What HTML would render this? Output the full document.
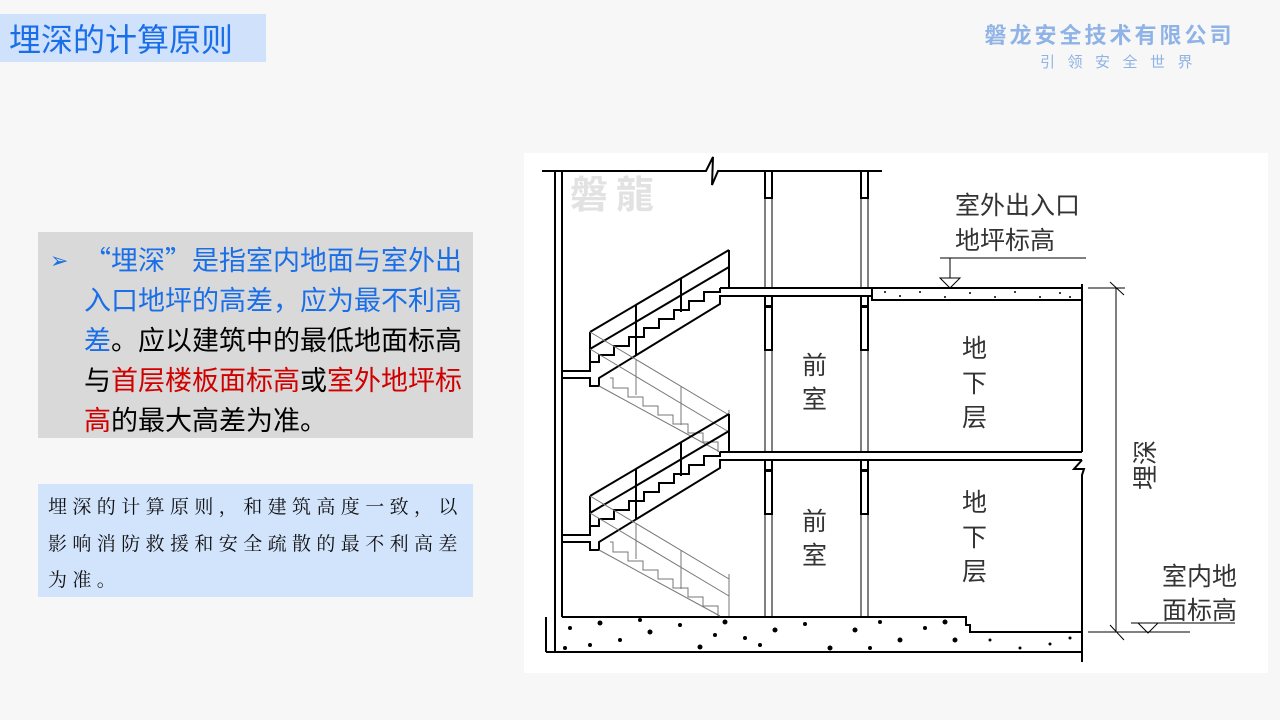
<!DOCTYPE html>
<html><head><meta charset="utf-8"><style>
body{margin:0;width:1280px;height:720px;background:#f7f7f7;position:relative;overflow:hidden;font-family:"Liberation Sans","Noto Sans CJK SC",sans-serif}
.title{position:absolute;left:0;top:14px;width:266px;height:48px;background:#cfe1fb;color:#1a6fe8;font-size:32px;line-height:48px;padding-left:9px;box-sizing:border-box;font-family:"Noto Sans CJK SC",sans-serif}
.logo{position:absolute;left:972px;top:18px;width:275px;text-align:center;color:#8fb3e6;font-weight:bold;font-size:22px;letter-spacing:3px;font-family:"Noto Sans CJK SC",sans-serif}
.logo2{position:absolute;left:1040px;top:51px;color:#8fb3e6;font-size:15px;letter-spacing:12.5px;font-family:"Noto Sans CJK SC",sans-serif}
.g{position:absolute;left:38px;top:232px;width:435px;height:206px;background:#d9d9d9;font-size:27px;line-height:40px;color:#000;font-family:"Noto Sans CJK SC",sans-serif}
.g .ar{position:absolute;left:12px;top:7px;color:#1a6fe8;font-size:22px}
.g .t{position:absolute;left:46px;top:7px;width:386px}
.b{color:#1a6fe8}.r{color:#d00000}
.bx{position:absolute;left:38px;top:484px;width:435px;height:113px;background:#d2e3fc;font-family:"Noto Serif CJK SC",serif;font-size:19px;letter-spacing:5.4px;line-height:36.5px;color:#111;padding:4px 0 0 10px;box-sizing:border-box}
svg{position:absolute;left:0;top:0}
</style></head><body>
<div class="title">埋深的计算原则</div>
<div class="logo">磐龙安全技术有限公司</div>
<div class="logo2">引领安全世界</div>
<div class="g"><span class="ar">➢</span><div class="t"><span class="b">“埋深”是指室内地面与室外出入口地坪的高差，应为最不利高差</span>。应以建筑中的最低地面标高与<span class="r">首层楼板面标高</span>或<span class="r">室外地坪标高</span>的最大高差为准。</div></div>
<div class="bx">埋深的计算原则，和建筑高度一致，以影响消防救援和安全疏散的最不利高差为准。</div>
<svg width="1280" height="720" viewBox="0 0 1280 720">
<rect x="524" y="153" width="744" height="520" fill="#fff"/>
<text x="570" y="208" font-size="38" font-weight="bold" fill="#e2e2e2" font-family="Noto Sans CJK TC,sans-serif" letter-spacing="8">磐龍</text>
<g stroke="#000" stroke-width="2" fill="none">
<polyline points="542,171 706,171 713,157 712,185 718,171 882,171"/>
<line x1="555" y1="171" x2="555" y2="652"/><line x1="562" y1="171" x2="562" y2="617"/>
<rect x="765" y="171" width="7" height="27"/><rect x="861" y="171" width="7" height="27"/>
<polyline points="720,288 1082,288"/><polyline points="729,296 861,296"/><polyline points="868,296 872,296"/>
<rect x="765" y="296" width="7" height="10"/><rect x="765" y="307" width="7" height="43"/>
<rect x="861" y="296" width="7" height="10"/><rect x="861" y="307" width="7" height="43"/>
<rect x="872" y="288" width="210" height="12"/>
<line x1="1082" y1="284" x2="1082" y2="300"/>
<line x1="720" y1="452" x2="1082" y2="452"/><line x1="729" y1="460" x2="1082" y2="460"/>
<rect x="765" y="460" width="7" height="10"/><rect x="765" y="471" width="7" height="43"/>
<rect x="861" y="460" width="7" height="10"/><rect x="861" y="471" width="7" height="43"/>
<polyline points="1082,460 1074,469 1084,469 1082,475 1082,662"/>
<line x1="1082" y1="300" x2="1082" y2="452"/>
<polyline points="562,617 966,617 966,625 970,625 970,632 1082,632"/>
<line x1="546" y1="652" x2="1082" y2="652"/>
<line x1="546" y1="617" x2="546" y2="652"/>
</g>
<g stroke="#000" stroke-width="1">
<line x1="765" y1="198" x2="765" y2="288"/><line x1="772" y1="198" x2="772" y2="288"/>
<line x1="861" y1="198" x2="861" y2="288"/><line x1="868" y1="198" x2="868" y2="288"/>
<line x1="765" y1="350" x2="765" y2="452"/><line x1="772" y1="350" x2="772" y2="452"/>
<line x1="861" y1="350" x2="861" y2="452"/><line x1="868" y1="350" x2="868" y2="452"/>
<line x1="765" y1="514" x2="765" y2="617"/><line x1="772" y1="514" x2="772" y2="617"/>
<line x1="861" y1="514" x2="861" y2="617"/><line x1="868" y1="514" x2="868" y2="617"/>
</g>
<g id="st" fill="none">
<g stroke="#000" stroke-width="2">
<polyline points="562,371 590,371 590,362 599,362 599,355 614,355 614,346 629,346 629,337 644,337 644,328 659,328 659,319 674,319 674,310 689,310 689,301 704,301 704,292 720,292 720,288"/>
<polyline points="562,378 590,378 590,386 599,386 599,378 720,304 720,296 729,296"/>
<line x1="590" y1="332" x2="729" y2="250"/><line x1="590" y1="349" x2="729" y2="267"/>
<line x1="590" y1="332" x2="590" y2="371"/><line x1="729" y1="250" x2="729" y2="288"/>
<line x1="636" y1="305" x2="636" y2="355"/><line x1="681" y1="278" x2="681" y2="312"/>
</g>
<g stroke="#777" stroke-width="1">
<line x1="590" y1="332" x2="729" y2="415"/><line x1="590" y1="349" x2="729" y2="432"/>
<line x1="599" y1="386" x2="720" y2="452"/>
<polyline points="610,378 613,378 613,388 628,388 628,397 643,397 643,406 658,406 658,415 673,415 673,424 688,424 688,433 703,433 703,442 718,442 718,452"/>
<line x1="636" y1="360" x2="636" y2="395"/><line x1="681" y1="386" x2="681" y2="425"/><line x1="729" y1="410" x2="729" y2="452"/>
</g>
</g>
<use href="#st" transform="translate(0,164)"/>
<g fill="#000">
<circle cx="900" cy="296" r="1"/><circle cx="920" cy="292" r="1"/><circle cx="945" cy="297" r="1"/><circle cx="970" cy="293" r="1"/><circle cx="995" cy="297" r="1"/><circle cx="1015" cy="292" r="1"/><circle cx="1040" cy="297" r="1"/><circle cx="1060" cy="293" r="1"/><circle cx="885" cy="292" r="1"/><circle cx="1070" cy="297" r="1"/>
<circle cx="570" cy="628" r="2"/><circle cx="600" cy="623" r="2.5"/><circle cx="620" cy="640" r="2"/><circle cx="650" cy="632" r="2.5"/><circle cx="680" cy="625" r="2"/><circle cx="700" cy="647" r="2.5"/><circle cx="725" cy="622" r="2.5"/><circle cx="745" cy="638" r="2"/><circle cx="775" cy="630" r="2.5"/><circle cx="805" cy="624" r="2"/><circle cx="830" cy="648" r="2.5"/><circle cx="855" cy="630" r="2.5"/><circle cx="880" cy="622" r="2"/><circle cx="900" cy="640" r="2.5"/><circle cx="925" cy="628" r="2"/><circle cx="945" cy="622" r="2.5"/><circle cx="955" cy="640" r="2.5"/><circle cx="590" cy="645" r="2"/><circle cx="640" cy="620" r="2"/><circle cx="760" cy="645" r="2"/><circle cx="990" cy="640" r="1.5"/><circle cx="1020" cy="648" r="1.5"/><circle cx="1050" cy="644" r="1.5"/><circle cx="1070" cy="638" r="1.5"/><circle cx="565" cy="648" r="2"/><circle cx="715" cy="635" r="2"/><circle cx="870" cy="648" r="2"/>
</g>
<g stroke="#000" stroke-width="1" fill="none">
<line x1="1088" y1="288" x2="1125" y2="288"/><line x1="1116" y1="288" x2="1116" y2="632"/>
<line x1="1110" y1="282" x2="1124" y2="295"/><line x1="1110" y1="625" x2="1124" y2="640"/>
<line x1="1088" y1="632" x2="1190" y2="632"/>
<polyline points="940,258 1086,258"/><line x1="950" y1="258" x2="950" y2="278"/>
<polygon points="940,278 960,278 950,288"/>
<line x1="1131" y1="623" x2="1235" y2="623"/><polygon points="1138,623 1158,623 1148,633"/>
</g>
<g font-size="25" fill="#333" font-family="Noto Sans CJK SC,sans-serif">
<text x="955" y="214">室外出入口</text><text x="955" y="249">地坪标高</text>
<text x="1162" y="585">室内地</text><text x="1162" y="619">面标高</text>
<text x="802" y="374">前</text><text x="802" y="408">室</text>
<text x="802" y="530">前</text><text x="802" y="564">室</text>
<text x="962" y="357">地</text><text x="962" y="392">下</text><text x="962" y="426">层</text>
<text x="962" y="511">地</text><text x="962" y="546">下</text><text x="962" y="580">层</text>
<text transform="translate(1154,490) rotate(-90)">埋深</text>
</g>
</svg>
</body></html>
